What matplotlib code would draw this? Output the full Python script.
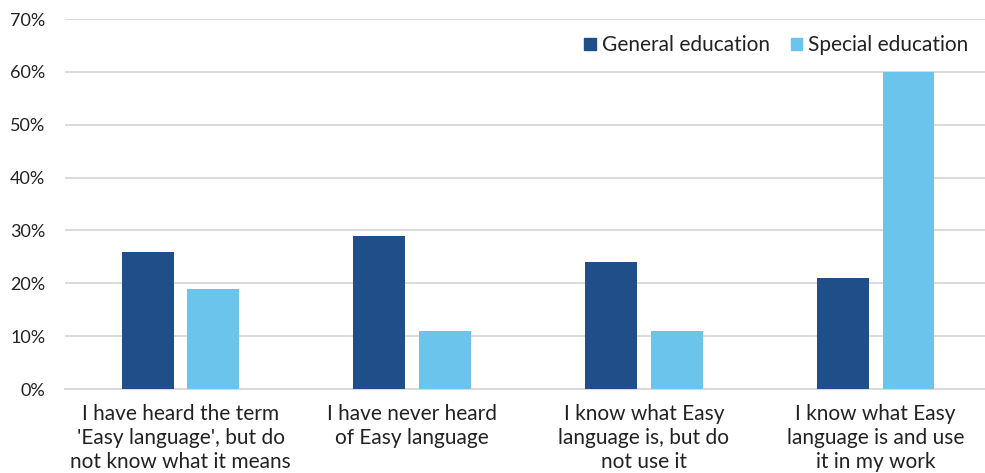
import matplotlib
matplotlib.use("Agg")
import matplotlib.pyplot as plt
import numpy as np
from matplotlib.patches import Patch

categories = ["I have heard the term\n'Easy language', but do\nnot know what it means",
              "I have never heard\nof Easy language",
              "I know what Easy\nlanguage is, but do\nnot use it",
              "I know what Easy\nlanguage is and use\nit in my work"]
series_names = ["General education", "Special education"]
general = [26, 29, 24, 21]
special = [19, 11, 11, 60]
yticks = [0, 10, 20, 30, 40, 50, 60, 70]

dark = "#1F4E89"
light = "#6BC4EC"
plt.rcParams['font.family'] = ['Lato', 'DejaVu Sans']

fig = plt.figure(figsize=(9.85, 4.73), dpi=100)
ax = fig.add_axes([64.7/985, 1-389/473, 926.7/985, 370/473])
x = np.arange(len(categories))
w = 0.224
off = 0.142
ax.bar(x - off, general, w, color=dark, zorder=3)
ax.bar(x + off, special, w, color=light, zorder=3)
ax.set_xlim(-0.5, 3.5)
ax.set_ylim(0, 70)
ax.set_yticks(yticks)
ax.set_yticklabels([f"{v}%" for v in yticks], fontsize=13, color="#222222")
ax.set_xticks(x)
ax.set_xticklabels(categories, fontsize=15, color="#222222", linespacing=1.24)
ax.tick_params(axis='both', length=0)
ax.tick_params(axis='y', pad=14)
ax.tick_params(axis='x', pad=11)
ax.grid(axis='y', color="#d9d9d9", linewidth=1.4, zorder=0)
for s in ["top", "right", "left"]:
    ax.spines[s].set_visible(False)
ax.spines["bottom"].set_color("#d9d9d9")
ax.spines["bottom"].set_linewidth(1.4)
handles = [Patch(color=dark), Patch(color=light)]
leg = ax.legend(handles, series_names, loc="upper right", bbox_to_anchor=(970/926.7 - 64.7/926.7 + 0.012, 0.99), ncol=2,
          frameon=False, fontsize=15, handlelength=0.55, handleheight=0.55,
          handletextpad=0.3, columnspacing=1.0, borderaxespad=0.2)
for t in leg.get_texts():
    t.set_color("#222222")
fig.savefig("out.png", dpi=100)
